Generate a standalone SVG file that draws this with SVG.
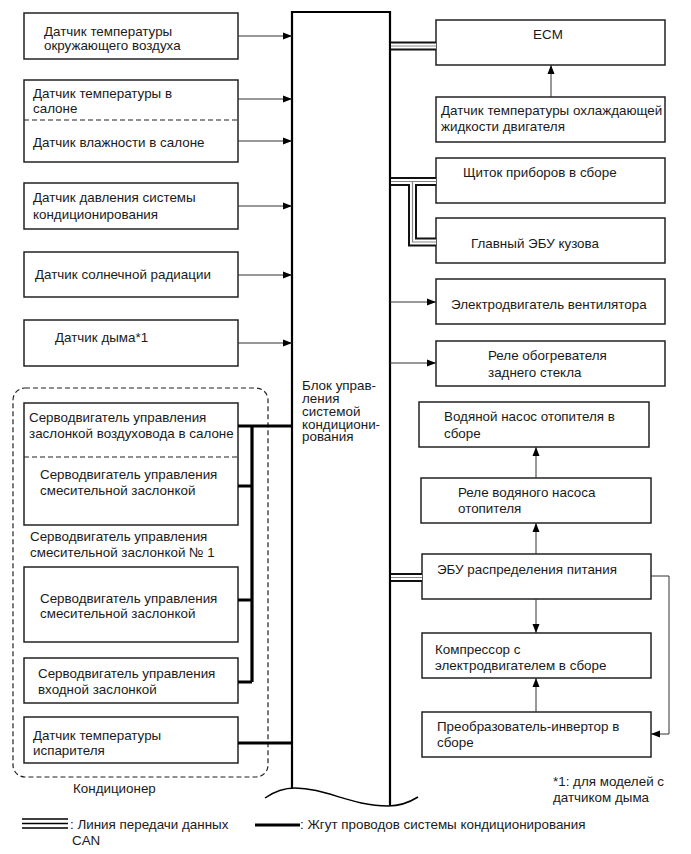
<svg xmlns="http://www.w3.org/2000/svg" width="691" height="854" viewBox="0 0 691 854">
<style>
text{font-family:"Liberation Sans",Arial,sans-serif;font-size:13.4px;fill:#1a1a1a}
.box{fill:#fff;stroke:#222;stroke-width:1.5}
.dash{stroke:#222;stroke-width:1.2;stroke-dasharray:5 3;fill:none}
.thin{stroke:#333;stroke-width:1;fill:none}
.arr{stroke:#333;stroke-width:1;fill:none;marker-end:url(#ah)}
.harn{stroke:#000;stroke-width:3.2;fill:none}
.canb{stroke:#111;stroke-width:9;fill:none}
.canw{stroke:#fff;stroke-width:5;fill:none}
.cang{stroke:#888;stroke-width:1.2;fill:none}
</style>
<defs>
<marker id="ah" markerWidth="10" markerHeight="8" refX="9" refY="4" orient="auto" markerUnits="userSpaceOnUse">
<path d="M0,0.5 L9,4 L0,7.5 Z" fill="#000"/>
</marker>
</defs>
<rect width="691" height="854" fill="#fff"/>

<g id="conditioner-group">
<rect x="13" y="388" width="255" height="389" rx="12" ry="12" class="dash"/>
<text x="73" y="792.5">Кондиционер</text>
</g>

<g id="central-unit">
<path d="M292,789 V12 H390 V806" fill="none" stroke="#000" stroke-width="2.2"/>
<path d="M265,798 C275,791 284,788 295,788 C325,788 352,806 388,806 C400,806 410,802 418,797" fill="none" stroke="#000" stroke-width="1.5"/>
<text x="302" y="390">Блок управ-</text>
<text x="302" y="403">ления</text>
<text x="302" y="416">системой</text>
<text x="302" y="428.5">кондициони-</text>
<text x="302" y="441">рования</text>
</g>

<g id="n-ambient">
<rect x="24" y="13" width="214" height="46" class="box"/>
<text x="44" y="36">Датчик температуры</text>
<text x="44" y="50">окружающего воздуха</text>
</g>
<g id="n-cabin">
<rect x="24" y="80" width="214" height="82" class="box"/>
<line x1="24" y1="120" x2="238" y2="120" class="dash" stroke-width="1"/>
<text x="33" y="97.5">Датчик температуры в</text>
<text x="33" y="112.5">салоне</text>
<text x="33" y="146.5">Датчик влажности в салоне</text>
</g>
<g id="n-pressure">
<rect x="24" y="183" width="214" height="46" class="box"/>
<text x="33" y="201.5">Датчик давления системы</text>
<text x="33" y="218.5">кондиционирования</text>
</g>
<g id="n-solar">
<rect x="24" y="252" width="214" height="45" class="box"/>
<text x="35" y="278.5">Датчик солнечной радиации</text>
</g>
<g id="n-smoke">
<rect x="24" y="320" width="214" height="46" class="box"/>
<text x="55" y="341.5">Датчик дыма*1</text>
</g>
<g id="n-servo-air">
<rect x="24" y="403" width="214" height="122" class="box"/>
<line x1="24" y1="457" x2="238" y2="457" class="dash" stroke-width="1"/>
<text x="29" y="421.5">Серводвигатель управления</text>
<text x="29" y="437.5">заслонкой воздуховода в салоне</text>
<text x="40" y="478.5">Серводвигатель управления</text>
<text x="40" y="494.5">смесительной заслонкой</text>
</g>
<g id="n-servo-label">
<text x="30" y="540.5">Серводвигатель управления</text>
<text x="30" y="556.5">смесительной заслонкой № 1</text>
</g>
<g id="n-servo-mix">
<rect x="24" y="567" width="214" height="75" class="box"/>
<text x="40" y="602.5">Серводвигатель управления</text>
<text x="40" y="617.5">смесительной заслонкой</text>
</g>
<g id="n-servo-inlet">
<rect x="24" y="658" width="214" height="45" class="box"/>
<text x="38" y="677.5">Серводвигатель управления</text>
<text x="38" y="693.5">входной заслонкой</text>
</g>
<g id="n-evap">
<rect x="24" y="717" width="214" height="46" class="box"/>
<text x="33" y="739.5">Датчик температуры</text>
<text x="33" y="754.5">испарителя</text>
</g>

<g id="n-ecm">
<rect x="436" y="20" width="229" height="45" class="box"/>
<text x="548" y="38.5" text-anchor="middle">ECM</text>
</g>
<g id="n-coolant">
<rect x="436" y="97" width="229" height="45" class="box"/>
<text x="441" y="114.5">Датчик температуры охлаждающей</text>
<text x="441" y="130.5">жидкости двигателя</text>
</g>
<g id="n-meter">
<rect x="436" y="158" width="229" height="45" class="box"/>
<text x="463" y="176.5">Щиток приборов в сборе</text>
</g>
<g id="n-body">
<rect x="436" y="218" width="229" height="45" class="box"/>
<text x="471" y="247.5">Главный ЭБУ кузова</text>
</g>
<g id="n-fan">
<rect x="436" y="279" width="229" height="45" class="box"/>
<text x="451" y="308.5">Электродвигатель вентилятора</text>
</g>
<g id="n-defog">
<rect x="436" y="341" width="229" height="45" class="box"/>
<text x="488" y="359.5">Реле обогревателя</text>
<text x="488" y="376.5">заднего стекла</text>
</g>
<g id="n-pump">
<rect x="419" y="402" width="230" height="45" class="box"/>
<text x="444" y="420.5">Водяной насос отопителя в</text>
<text x="444" y="437.5">сборе</text>
</g>
<g id="n-pump-relay">
<rect x="421" y="478" width="230" height="45" class="box"/>
<text x="458" y="496.5">Реле водяного насоса</text>
<text x="458" y="512.5">отопителя</text>
</g>
<g id="n-pdu">
<rect x="422" y="554" width="229" height="45" class="box"/>
<text x="437" y="573.5">ЭБУ распределения питания</text>
</g>
<g id="n-compressor">
<rect x="422" y="633" width="229" height="45" class="box"/>
<text x="435" y="653.5">Компрессор с</text>
<text x="435" y="669.5">электродвигателем в сборе</text>
</g>
<g id="n-inverter">
<rect x="422" y="712" width="229" height="45" class="box"/>
<text x="437" y="730.5">Преобразователь-инвертор в</text>
<text x="437" y="746.5">сборе</text>
</g>

<g id="footnote">
<text x="553" y="785.5">*1: для моделей с</text>
<text x="553" y="801.5">датчиком дыма</text>
</g>

<g id="connectors">
<line x1="238" y1="36" x2="292" y2="36" class="arr"/>
<line x1="238" y1="99" x2="292" y2="99" class="arr"/>
<line x1="238" y1="141" x2="292" y2="141" class="arr"/>
<line x1="238" y1="206" x2="292" y2="206" class="arr"/>
<line x1="238" y1="275" x2="292" y2="275" class="arr"/>
<line x1="238" y1="343" x2="292" y2="343" class="arr"/>

<path d="M238,426 H292 M252,426 V682 M238,486 H252 M238,600 H252 M238,682 H252 M238,743 H292" class="harn"/>

<line x1="551" y1="97" x2="551" y2="65" class="arr"/>
<line x1="390" y1="302" x2="436" y2="302" class="arr"/>
<line x1="390" y1="363" x2="436" y2="363" class="arr"/>
<line x1="536" y1="478" x2="536" y2="447" class="arr"/>
<line x1="536" y1="554" x2="536" y2="523" class="arr"/>
<line x1="536" y1="599" x2="536" y2="633" class="arr"/>
<line x1="536" y1="712" x2="536" y2="678" class="arr"/>
<path d="M651,576 H669 V734 H651" class="arr"/>

<path d="M391,46 H436 M391,181.5 H436 M412.5,181.5 V242 H436 M391,577.5 H422" class="canb"/>
<path d="M391,46 H436 M391,181.5 H436 M412.5,181.5 V242 H436 M391,577.5 H422" class="canw"/>
<path d="M391,46 H436 M391,181.5 H436 M412.5,181.5 V242 H436 M391,577.5 H422" class="cang"/>
</g>

<g id="legend">
<path d="M22,819 H68 M22,823.5 H68 M22,828 H68" stroke="#000" stroke-width="1.6" fill="none"/>
<text x="70" y="828.5">: Линия передачи данных</text>
<text x="72" y="844.5">CAN</text>
<line x1="255" y1="825" x2="300" y2="825" stroke="#000" stroke-width="3.2"/>
<text x="300" y="829">: Жгут проводов системы кондиционирования</text>
</g>
</svg>
